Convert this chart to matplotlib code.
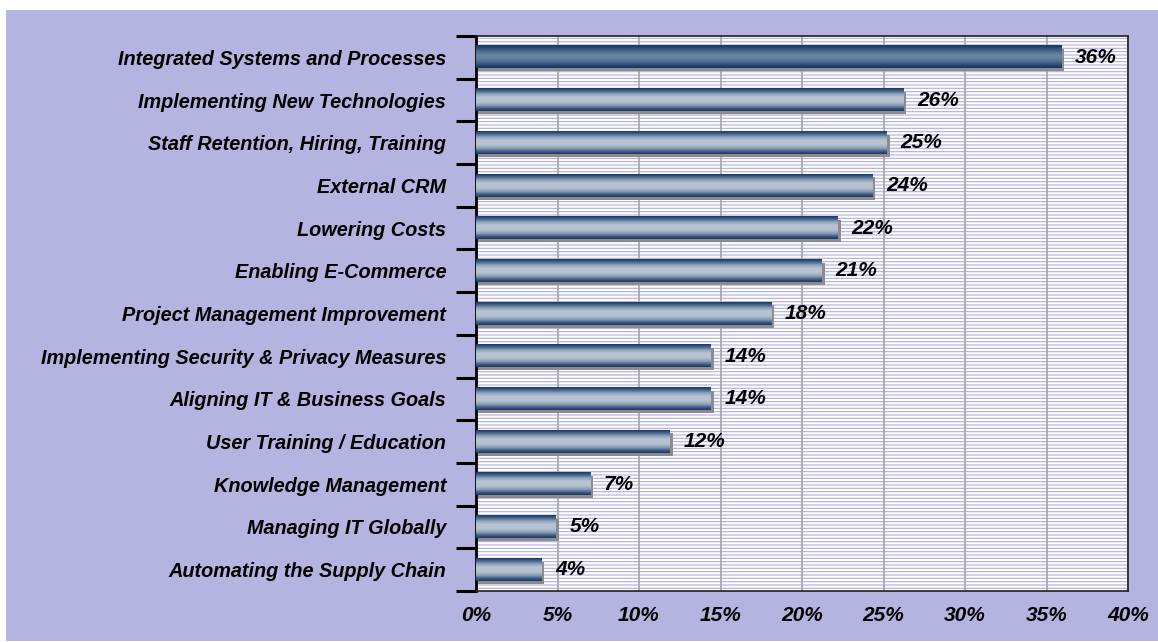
import numpy as np
import matplotlib
matplotlib.use("Agg")
import matplotlib.pyplot as plt
from matplotlib.patches import Rectangle
from matplotlib.colors import LinearSegmentedColormap

categories = ["Integrated Systems and Processes", "Implementing New Technologies",
              "Staff Retention, Hiring, Training", "External CRM", "Lowering Costs",
              "Enabling E-Commerce", "Project Management Improvement",
              "Implementing Security & Privacy Measures", "Aligning IT & Business Goals",
              "User Training / Education", "Knowledge Management",
              "Managing IT Globally", "Automating the Supply Chain"]
values = [35.9, 26.2, 25.2, 24.3, 22.2, 21.2, 18.1, 14.4, 14.4, 11.9, 7.0, 4.9, 4.0]
labels = ["36%", "26%", "25%", "24%", "22%", "21%", "18%", "14%", "14%", "12%", "7%", "5%", "4%"]
xticks = [0, 5, 10, 15, 20, 25, 30, 35, 40]

plt.rcParams['font.family'] = ['Liberation Sans', 'DejaVu Sans']
plt.rcParams['hatch.linewidth'] = 0.8

lav = '#B4B4E0'
fig = plt.figure(figsize=(11.58, 6.42), dpi=100)
fig.patch.set_facecolor('white')
fig.patches.append(Rectangle((6/1158, 1/642), 1, (641-10)/642, transform=fig.transFigure,
                             facecolor=lav, edgecolor='none', zorder=-10))

ax = fig.add_axes([476/1158, 51/642, 652/1158, 555/642])
ax.set_facecolor('white')
# striped background
ax.add_patch(Rectangle((0, 0), 1, 1, transform=ax.transAxes, facecolor='none',
                       edgecolor='#AEAEE0', linewidth=0, hatch='-----', zorder=0.2))

n = len(categories)
ypos = np.arange(n)[::-1]
h = 0.52

light = LinearSegmentedColormap.from_list('light', [
    (0.0, '#1C3766'), (0.1, '#3D5A85'), (0.25, '#8CA0B8'), (0.4, '#B8C5D2'),
    (0.6, '#B4C1CE'), (0.76, '#8A9EB6'), (0.9, '#3A5782'), (1.0, '#1C3766')])
dark = LinearSegmentedColormap.from_list('dark', [
    (0.0, '#17315F'), (0.12, '#2C4A78'), (0.3, '#52708F'), (0.45, '#6787A4'),
    (0.6, '#6181A0'), (0.76, '#46648A'), (0.9, '#26446F'), (1.0, '#17315F')])
grad = np.linspace(0, 1, 64).reshape(-1, 1)

for i, (v, y) in enumerate(zip(values, ypos)):
    # shadow
    ax.add_patch(Rectangle((0.12, y - h/2 - 0.07), v + 0.08, h, facecolor='#8C8C8C',
                           edgecolor='none', zorder=2))
    cm = dark if i == 0 else light
    ax.imshow(grad, cmap=cm, aspect='auto', extent=[0, v, y - h/2, y + h/2],
              origin='upper', zorder=3, interpolation='bilinear')
    ax.text(v + 0.85, y, labels[i], ha='left', va='center', fontsize=15,
            fontweight='bold', fontstyle='italic', zorder=4)

ax.set_xlim(0, 40)
ax.set_ylim(-0.5, n - 0.5)
ax.set_xticks(xticks)
ax.set_xticklabels([f"{t}%" for t in xticks], fontsize=15, fontweight='bold', fontstyle='italic')
ax.tick_params(axis='x', length=0, pad=11)
ax.xaxis.grid(True, color='#A8A8A8', linewidth=1.3)
ax.set_axisbelow(True)

ax.set_yticks(np.arange(n + 1) - 0.5)
ax.set_yticklabels([])
ax.tick_params(axis='y', which='major', length=14.4, width=2.2, color='black')
ax.set_yticks(ypos, minor=True)
ax.set_yticklabels(categories, minor=True, fontsize=14.3, fontweight='bold', fontstyle='italic')
ax.tick_params(axis='y', which='minor', length=0, pad=21.5)

for s in ['top', 'right', 'bottom']:
    ax.spines[s].set_linewidth(1.2)
    ax.spines[s].set_color('#202020')
ax.spines['left'].set_linewidth(2)
ax.spines['left'].set_color('black')

fig.savefig('out.png', dpi=100, facecolor=fig.get_facecolor())
